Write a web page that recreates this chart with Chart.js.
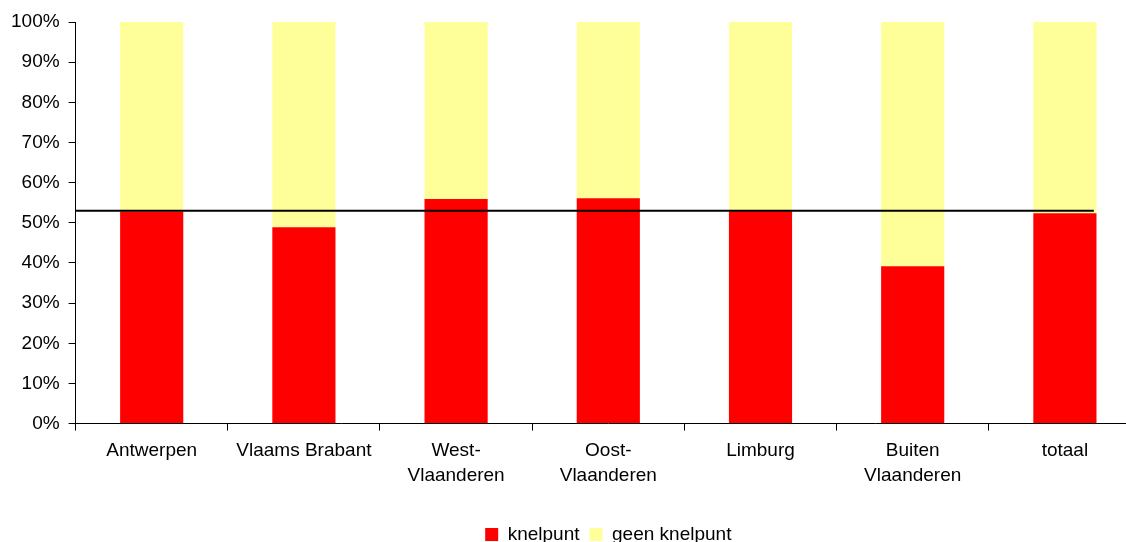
<!DOCTYPE html>
<html>
<head>
<meta charset="utf-8">
<script src="https://cdn.jsdelivr.net/npm/chart.js@4.4.1/dist/chart.umd.min.js"></script>
<style>
    html, body { margin: 0; padding: 0; background: #fff; overflow: hidden; }
    #wrap { width: 1126px; height: 542px; overflow: hidden; position: relative; }
    #chart { position: absolute; left: 0; top: 0; }
</style>
</head>
<body>
<div id="wrap">
    <canvas id="chart" width="1214" height="554"></canvas>
</div>
<script>
// Data (percent)
const provincies = ['Antwerpen', 'Vlaams Brabant', ['West-', 'Vlaanderen'], ['Oost-', 'Vlaanderen'], 'Limburg', ['Buiten', 'Vlaanderen'], 'totaal'];
const knelpunt = [52.8, 48.9, 55.9, 56.1, 52.9, 39.2, 52.4];
const geenKnelpunt = [47.2, 51.1, 44.1, 43.9, 47.1, 60.8, 47.6];
const gemiddelde = 53.0;
const yTicks = [0, 10, 20, 30, 40, 50, 60, 70, 80, 90, 100];

const fontFamily = "'Liberation Sans', Arial, sans-serif";

// Horizontal reference line for the average
const averageLine = {
    id: 'averageLine',
    afterLayout(chart) {
        // center the legend on the plot area, like the original
        const lg = chart.legend;
        lg.left = chart.chartArea.left;
        lg.right = chart.chartArea.right;
        lg.width = lg.right - lg.left;
    },
    afterDatasetsDraw(chart) {
        const { ctx, chartArea, scales } = chart;
        const y = scales.y.getPixelForValue(gemiddelde);
        const catWidth = (chartArea.right - chartArea.left) / provincies.length;
        const xEnd = scales.x.getPixelForValue(provincies.length - 1) + catWidth * 0.19;
        ctx.save();
        ctx.strokeStyle = '#000';
        ctx.lineWidth = 2;
        ctx.beginPath();
        ctx.moveTo(chartArea.left, y);
        ctx.lineTo(xEnd, y);
        ctx.stroke();
        ctx.restore();
    }
};

const ctx = document.getElementById('chart').getContext('2d');
new Chart(ctx, {
    type: 'bar',
    data: {
        labels: provincies,
        datasets: [
            {
                label: 'knelpunt',
                data: knelpunt,
                backgroundColor: '#FF0000',
                borderWidth: 0
            },
            {
                label: 'geen knelpunt',
                data: geenKnelpunt,
                backgroundColor: '#FFFF99',
                borderWidth: 0
            }
        ]
    },
    options: {
        responsive: false,
        animation: false,
        devicePixelRatio: 1,
        categoryPercentage: 1,
        barPercentage: 0.415,
        layout: {
            padding: { left: 2, right: 73, top: 22, bottom: 0 }
        },
        plugins: {
            tooltip: { enabled: false },
            legend: {
                position: 'bottom',
                labels: {
                    boxWidth: 13,
                    boxHeight: 13,
                    padding: 10,
                    color: '#000',
                    font: { family: fontFamily, size: 19, lineHeight: 1 }
                }
            }
        },
        scales: {
            x: {
                stacked: true,
                afterFit: function(scale) { scale.height += 19; },
                grid: {
                    display: true,
                    offset: true,
                    drawOnChartArea: false,
                    tickLength: 7,
                    color: '#000'
                },
                border: { color: '#000', width: 1 },
                ticks: {
                    color: '#000',
                    padding: 8,
                    maxRotation: 0,
                    autoSkip: false,
                    font: { family: fontFamily, size: 19, lineHeight: 1.3 }
                }
            },
            y: {
                stacked: true,
                min: 0,
                max: 100,
                afterBuildTicks: function(scale) {
                    scale.ticks = yTicks.map(v => ({ value: v }));
                },
                grid: {
                    drawOnChartArea: false,
                    tickLength: 7,
                    color: '#000'
                },
                border: { color: '#000', width: 1 },
                ticks: {
                    color: '#000',
                    padding: 9,
                    font: { family: fontFamily, size: 19 },
                    callback: v => v + '%'
                }
            }
        }
    },
    plugins: [averageLine]
});
</script>
</body>
</html>
